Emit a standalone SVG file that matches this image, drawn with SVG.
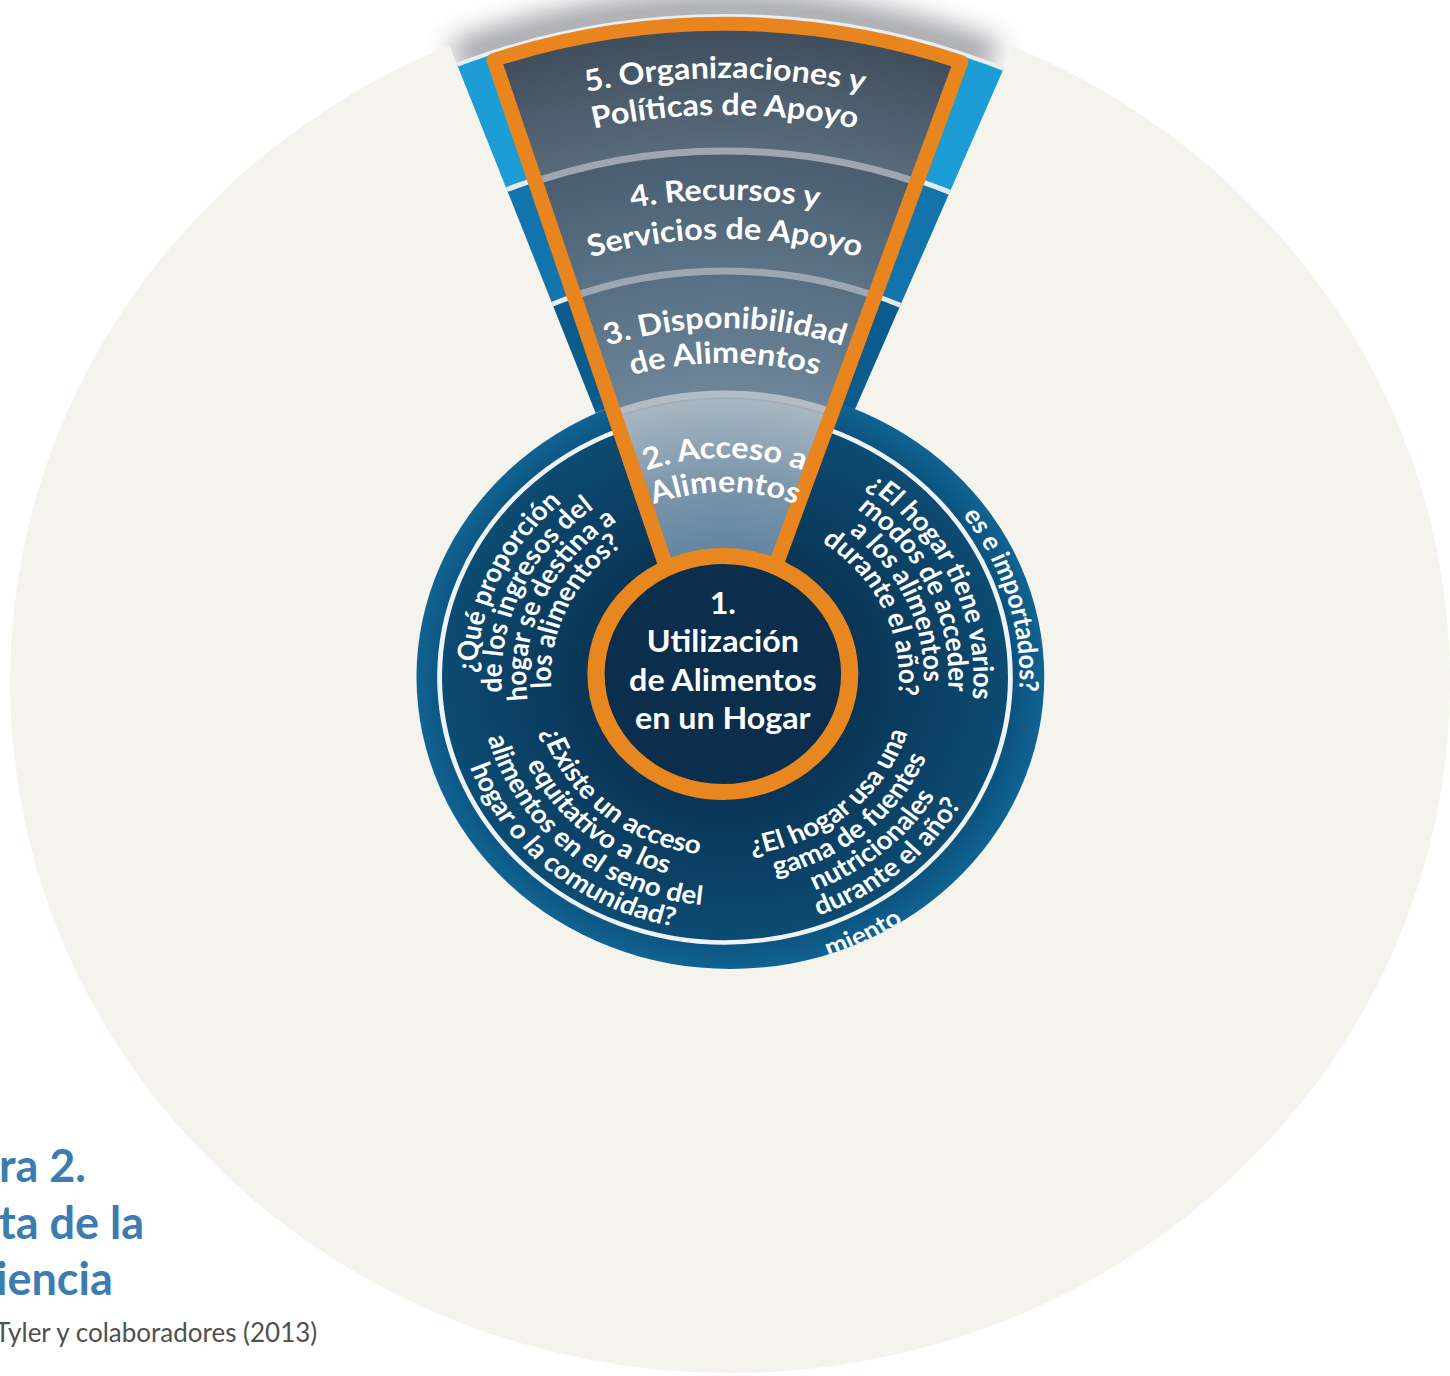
<svg xmlns="http://www.w3.org/2000/svg" width="1450" height="1376" viewBox="0 0 1450 1376">
<style>
 .t { font-family: Lato, "Liberation Sans", "DejaVu Sans", sans-serif; font-weight: 700; fill: #ffffff; }
 .wt { font-size: 30px; }
 .q { font-size: 26px; }
 .band { font-size: 25px; }
 .ct { font-size: 30px; text-anchor: middle; }
 .cap { font-family: Lato, "Liberation Sans", sans-serif; font-weight: 700; font-size: 45px; fill: #3d7cb1; }
 .src { font-family: Lato, "Liberation Sans", sans-serif; font-weight: 400; font-size: 26px; fill: #505050; }
</style>
<defs>
 <filter id="blur" x="-30%" y="-100%" width="160%" height="300%"><feGaussianBlur stdDeviation="12"/></filter>
 <radialGradient id="wedgeGrad" gradientUnits="userSpaceOnUse" cx="0" cy="0" r="660">
  <stop offset="0.17" stop-color="#5f819d"/>
  <stop offset="0.30" stop-color="#7c97ac"/>
  <stop offset="0.42" stop-color="#a7b6c2"/>
  <stop offset="0.435" stop-color="#6c8599"/>
  <stop offset="0.61" stop-color="#566f83"/>
  <stop offset="0.62" stop-color="#5b7386"/>
  <stop offset="0.79" stop-color="#4a5e70"/>
  <stop offset="0.80" stop-color="#586b7b"/>
  <stop offset="1" stop-color="#3d4b5a"/>
 </radialGradient>
 <radialGradient id="bandGrad" gradientUnits="userSpaceOnUse" cx="5" cy="0" r="292">
  <stop offset="0.9" stop-color="#0c527e"/>
  <stop offset="1" stop-color="#106392"/>
 </radialGradient>
 <radialGradient id="innerGrad" gradientUnits="userSpaceOnUse" cx="0" cy="0" r="263">
  <stop offset="0" stop-color="#0a2c48"/>
  <stop offset="0.5" stop-color="#0a3657"/>
  <stop offset="1" stop-color="#0c4b72"/>
 </radialGradient>
 <path id="wedgeShape" d="M -6 44 L -214.9 -617 A 653 653 0 0 1 219.4 -615 Z"/>
 <clipPath id="wedgeClip"><use href="#wedgeShape"/></clipPath>
 <clipPath id="ringClip"><path d="M -6 45 L -696 -1820 L 751 -1820 Z"/></clipPath>
 <clipPath id="discClip"><circle cx="5" cy="0" r="292"/></clipPath>
 <mask id="beigeMask" maskUnits="userSpaceOnUse" x="0" y="0" width="1450" height="1376">
  <rect width="1450" height="1376" fill="#fff"/>
  <g transform="translate(725,677) scale(1.075,1)">
   <path d="M -6 45 L -696 -1820 L 751 -1820 Z" fill="#000"/>
   <circle cx="5" cy="0" r="292" fill="#000"/>
  </g>
 </mask>
 <!-- wedge text arcs -->
 <path id="w1" d="M -518.7 -299.5 A 599 599 0 0 1 518.7 -299.5"/>
 <path id="w2" d="M -486.7 -281 A 562 562 0 0 1 486.7 -281"/>
 <path id="w3" d="M -413.1 -238.5 A 477 477 0 0 1 413.1 -238.5"/>
 <path id="w4" d="M -379.3 -219 A 438 438 0 0 1 379.3 -219"/>
 <path id="w5" d="M -302.2 -174.5 A 349 349 0 0 1 302.2 -174.5"/>
 <path id="w6" d="M -271.9 -157 A 314 314 0 0 1 271.9 -157"/>
 <path id="w7" d="M -189.7 -109.5 A 219 219 0 0 1 189.7 -109.5"/>
 <path id="w8" d="M -160.2 -92.5 A 185 185 0 0 1 160.2 -92.5"/>
 <!-- left question arcs (cw) -->
 <path id="a1" d="M -148.5 177 A 231 231 0 0 1 40.1 -227.5"/>
 <path id="a2" d="M -133.7 159.3 A 208 208 0 0 1 36.1 -204.8"/>
 <path id="a3" d="M -118.9 141.7 A 185 185 0 0 1 32.1 -182.2"/>
 <path id="a4" d="M -104.1 124.1 A 162 162 0 0 1 28.1 -159.5"/>
 <!-- right question arcs (cw) -->
 <path id="b1" d="M -40.1 -227.5 A 231 231 0 0 1 148.5 177"/>
 <path id="b2" d="M -36.1 -204.8 A 208 208 0 0 1 133.7 159.3"/>
 <path id="b3" d="M -32.1 -182.2 A 185 185 0 0 1 118.9 141.7"/>
 <path id="b4" d="M -28.1 -159.5 A 162 162 0 0 1 104.1 124.1"/>
 <!-- bottom-left arcs (ccw) -->
 <path id="c1" d="M -162.2 -75.6 A 179 179 0 0 0 102.7 146.6"/>
 <path id="c2" d="M -184.9 -86.2 A 204 204 0 0 0 117 167.1"/>
 <path id="c3" d="M -207.5 -96.8 A 229 229 0 0 0 131.4 187.6"/>
 <path id="c4" d="M -230.2 -107.3 A 254 254 0 0 0 145.7 208.1"/>
 <!-- bottom-right arcs (ccw) -->
 <path id="d1" d="M -102.7 146.6 A 179 179 0 0 0 162.2 -75.6"/>
 <path id="d2" d="M -117 167.1 A 204 204 0 0 0 184.9 -86.2"/>
 <path id="d3" d="M -131.4 187.6 A 229 229 0 0 0 207.5 -96.8"/>
 <path id="d4" d="M -145.7 208.1 A 254 254 0 0 0 230.2 -107.3"/>
 <!-- band arcs -->
 <path id="e1" d="M 137 -237.3 A 274 274 0 0 1 273.6 14.3"/>
 <path id="e2" d="M 96.4 279.9 A 296 296 0 0 0 226.7 190.3"/>
</defs>

<rect width="1450" height="1376" fill="#ffffff"/>

<g id="shadow" transform="translate(725,677) scale(1.075,1)">
 <path d="M -256.6 -635.1 A 685 685 0 0 1 256.6 -635.1 L 242.7 -600.8 A 648 648 0 0 0 -242.7 -600.8 Z" fill="#3c4048" opacity="0.45" filter="url(#blur)"/>
</g>

<ellipse id="backdrop" cx="730" cy="682" rx="720" ry="691" fill="#f4f3ec" mask="url(#beigeMask)"/>

<g id="wheel" transform="translate(725,677) scale(1.075,1)">
 <g id="outer-rings" clip-path="url(#ringClip)">
  <circle r="595" fill="none" stroke="#1b9cd4" stroke-width="134"/>
  <circle r="466.5" fill="none" stroke="#1274ab" stroke-width="123"/>
  <circle r="347.5" fill="none" stroke="#0b5c8c" stroke-width="115"/>
  <circle r="528" fill="none" stroke="#e4ebf0" stroke-width="5"/>
  <circle r="406" fill="none" stroke="#e4ebf0" stroke-width="5"/>
  <circle r="661" fill="none" stroke="#e9eef2" stroke-width="4"/>
 </g>

 <g id="disc">
  <circle cx="5" cy="0" r="292" fill="url(#bandGrad)"/>
  <circle r="263" fill="url(#innerGrad)"/>
  <circle r="265.5" fill="none" stroke="#eef3f6" stroke-width="4.5"/>
  <g clip-path="url(#discClip)">
   <text class="t band"><textPath href="#e1" startOffset="100%" text-anchor="end">es e importados?</textPath></text>
   <text class="t band"><textPath href="#e2" startOffset="0">miento</textPath></text>
  </g>
 </g>

 <g id="q-ingresos">
  <text class="t q"><textPath href="#a1" startOffset="50%" text-anchor="middle">¿Qué proporción</textPath></text>
  <text class="t q"><textPath href="#a2" startOffset="50%" text-anchor="middle">de los ingresos del</textPath></text>
  <text class="t q"><textPath href="#a3" startOffset="50%" text-anchor="middle">hogar se destina a</textPath></text>
  <text class="t q"><textPath href="#a4" startOffset="50%" text-anchor="middle">los alimentos?</textPath></text>
 </g>
 <g id="q-modos">
  <text class="t q"><textPath href="#b1" startOffset="50%" text-anchor="middle">¿El hogar tiene varios</textPath></text>
  <text class="t q"><textPath href="#b2" startOffset="50%" text-anchor="middle">modos de acceder</textPath></text>
  <text class="t q"><textPath href="#b3" startOffset="50%" text-anchor="middle">a los alimentos</textPath></text>
  <text class="t q"><textPath href="#b4" startOffset="50%" text-anchor="middle">durante el año?</textPath></text>
 </g>
 <g id="q-equitativo">
  <text class="t q"><textPath href="#c1" startOffset="50%" text-anchor="middle">¿Existe un acceso</textPath></text>
  <text class="t q"><textPath href="#c2" startOffset="50%" text-anchor="middle">equitativo a los</textPath></text>
  <text class="t q"><textPath href="#c3" startOffset="50%" text-anchor="middle">alimentos en el seno del</textPath></text>
  <text class="t q"><textPath href="#c4" startOffset="50%" text-anchor="middle">hogar o la comunidad?</textPath></text>
 </g>
 <g id="q-fuentes">
  <text class="t q"><textPath href="#d1" startOffset="50%" text-anchor="middle">¿El hogar usa una</textPath></text>
  <text class="t q"><textPath href="#d2" startOffset="50%" text-anchor="middle">gama de fuentes</textPath></text>
  <text class="t q"><textPath href="#d3" startOffset="50%" text-anchor="middle">nutricionales</textPath></text>
  <text class="t q"><textPath href="#d4" startOffset="50%" text-anchor="middle">durante el año?</textPath></text>
 </g>

 <g id="wedge">
  <g clip-path="url(#wedgeClip)">
   <rect x="-700" y="-700" width="1400" height="800" fill="url(#wedgeGrad)"/>
   <circle r="526" fill="none" stroke="#9ea7b1" stroke-width="7"/>
   <circle r="406" fill="none" stroke="#9ea7b1" stroke-width="7"/>
   <circle r="283" fill="none" stroke="#b3bcc5" stroke-width="7"/>
  </g>
  <use href="#wedgeShape" fill="none" stroke="#e8851e" stroke-width="14" stroke-linejoin="round"/>
 </g>
 <g id="node-5">
  <text class="t wt"><textPath href="#w1" startOffset="50%" text-anchor="middle">5. Organizaciones y</textPath></text>
  <text class="t wt"><textPath href="#w2" startOffset="50%" text-anchor="middle">Políticas de Apoyo</textPath></text>
 </g>
 <g id="node-4">
  <text class="t wt"><textPath href="#w3" startOffset="50%" text-anchor="middle">4. Recursos y</textPath></text>
  <text class="t wt"><textPath href="#w4" startOffset="50%" text-anchor="middle">Servicios de Apoyo</textPath></text>
 </g>
 <g id="node-3">
  <text class="t wt"><textPath href="#w5" startOffset="50%" text-anchor="middle">3. Disponibilidad</textPath></text>
  <text class="t wt"><textPath href="#w6" startOffset="50%" text-anchor="middle">de Alimentos</textPath></text>
 </g>
 <g id="node-2">
  <text class="t wt"><textPath href="#w7" startOffset="50%" text-anchor="middle">2. Acceso a</textPath></text>
  <text class="t wt"><textPath href="#w8" startOffset="50%" text-anchor="middle">Alimentos</textPath></text>
 </g>
 <g id="node-1">
  <circle cx="-2" cy="-3" r="118" fill="#0a2e4c" stroke="#e8861f" stroke-width="16"/>
  <text class="t ct" x="-2" y="-63">1.</text>
  <text class="t ct" x="-2" y="-25">Utilización</text>
  <text class="t ct" x="-2" y="14">de Alimentos</text>
  <text class="t ct" x="-2" y="52">en un Hogar</text>
 </g>
</g>

<g id="connectors"></g>

<g id="caption">
 <text class="cap" x="-1" y="1182">ra 2.</text>
 <text class="cap" x="-1" y="1239">ta de la</text>
 <text class="cap" x="-4" y="1295">iencia</text>
 <text class="src" x="-5" y="1342">Tyler y colaboradores (2013)</text>
</g>
</svg>
